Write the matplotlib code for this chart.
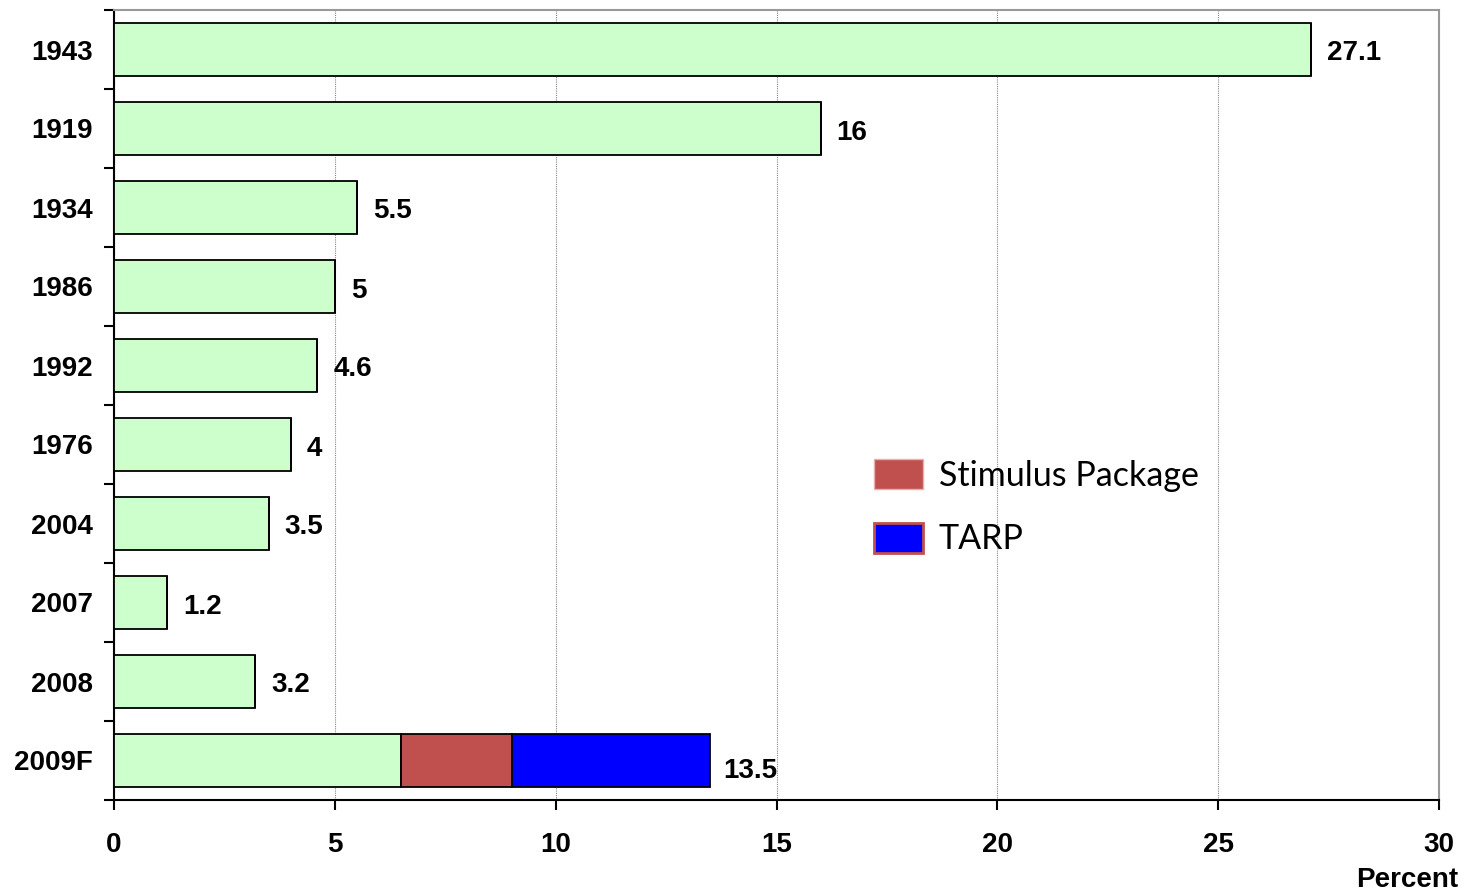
import numpy as np
from matplotlib import pyplot as plt
from matplotlib.patches import Patch

# data (percent)
years = ["1943", "1919", "1934", "1986", "1992", "1976", "2004", "2007", "2008", "2009F"]
base = [27.1, 16, 5.5, 5, 4.6, 4, 3.5, 1.2, 3.2, 6.5]
stimulus = [0, 0, 0, 0, 0, 0, 0, 0, 0, 2.5]
tarp = [0, 0, 0, 0, 0, 0, 0, 0, 0, 4.5]
totals = ["27.1", "16", "5.5", "5", "4.6", "4", "3.5", "1.2", "3.2", "13.5"]

green = "#CCFFCC"
red = "#C0504D"
blue = "#0000FF"

fig = plt.figure(figsize=(14.75, 8.94), dpi=100)
ax = fig.add_axes([114/1475, 1-800/894, (1439-114)/1475, 790/894])

y = np.arange(len(years))
h = 0.68
ax.barh(y, base, height=h, color=green, edgecolor="black", linewidth=1.3, zorder=3)
left2 = np.array(base)
ax.barh(y, stimulus, left=left2, height=h, color=red, edgecolor="black", linewidth=1.3, zorder=3)
left3 = left2 + np.array(stimulus)
ax.barh(y, tarp, left=left3, height=h, color=blue, edgecolor="black", linewidth=1.3, zorder=3)

ends = left3 + np.array(tarp)
for i, lab in enumerate(totals):
    if years[i] == "2009F":
        ax.annotate(lab, (ends[i], y[i]), xytext=(13, -11), textcoords="offset pixels",
                    ha="left", va="center", fontsize=20, fontweight="bold",
                    family=["Liberation Sans Narrow", "Liberation Sans"])
    else:
        ax.annotate(lab, (ends[i], y[i]), xytext=(16, -4), textcoords="offset pixels",
                    ha="left", va="center", fontsize=20, fontweight="bold",
                    family="Liberation Sans")

ax.set_xlim(0, 30)
ax.set_ylim(len(years) - 0.5, -0.5)
ax.set_xticks([0, 5, 10, 15, 20, 25, 30])
ax.set_xticklabels(["0", "5", "10", "15", "20", "25", "30"], fontsize=20, fontweight="bold",
                   family="Liberation Sans")
ax.set_yticks(y)
ax.set_yticklabels(years, fontsize=20, fontweight="bold", family="Liberation Sans")
ax.tick_params(axis="y", length=0, pad=15)
ax.set_yticks(np.arange(len(years) + 1) - 0.5, minor=True)
ax.tick_params(axis="y", which="minor", length=7, width=1.5, direction="out")
ax.tick_params(axis="x", length=7, width=1.5, direction="out", pad=16)

ax.grid(axis="x", color="#888888", linewidth=0.8, linestyle=(0, (1, 1)), zorder=0)
ax.spines["left"].set_linewidth(1.5)
ax.spines["bottom"].set_linewidth(1.5)
ax.spines["top"].set_color("#999999")
ax.spines["right"].set_color("#999999")
ax.spines["top"].set_linewidth(1.5)
ax.spines["right"].set_linewidth(1.5)

fig.text(1407/1475, 1-880/894, "Percent", ha="center", va="center", fontsize=20,
         fontweight="bold", family="Liberation Sans")

handles = [Patch(facecolor=red, edgecolor="#E6B0AE", linewidth=1),
           Patch(facecolor=blue, edgecolor=red, linewidth=2)]
fig.legend(handles, ["Stimulus Package", "TARP"], loc="upper left",
           bbox_to_anchor=(857/1475, 1-442/894), frameon=False, borderpad=0,
           prop={"family": "Lato", "size": 24.5}, handlelength=1.45, handleheight=1.0,
           handletextpad=0.45, labelspacing=0.9)

plt.savefig("out.png")
